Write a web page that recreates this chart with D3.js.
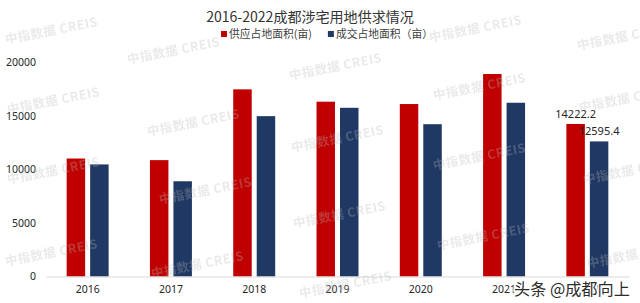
<!DOCTYPE html>
<html>
<head>
<meta charset="utf-8">
<script src="https://cdn.jsdelivr.net/npm/d3@7"></script>
<style>
  body { margin: 0; background: #fff; }
  svg { display: block; font-family: "Noto Sans", "Noto Sans CJK SC", sans-serif; }
</style>
</head>
<body>
<div id="chart"></div>
<script>
// data
const years = ['2016', '2017', '2018', '2019', '2020', '2021', '2022'];
const supply = [11000, 10850, 17450, 16300, 16080, 18880, 14222.2];
const deal = [10450, 8880, 14950, 15730, 14200, 16200, 12595.4];
const seriesNames = ['供应占地面积(亩)', '成交占地面积（亩）'];
const seriesColors = ['#C00000', '#203864'];
const yTicks = [0, 5000, 10000, 15000, 20000];
const labelledYear = '2022';

// watermark anchors (tiled "中指数据 CREIS")
const marks = [
  [6, 44], [128, 64], [290, 80], [430, 42], [578, 50],
  [8, 114], [148, 136], [292, 152], [434, 100], [580, 112],
  [8, 184], [160, 204], [294, 228], [434, 170], [584, 184],
  [6, 266], [152, 278], [300, 298], [438, 250], [588, 268]
];

const width = 640;
const height = 303;
const margin = { top: 62, right: 11, bottom: 26.5, left: 46 };

const svg = d3.select('#chart')
  .append('svg')
  .attr('width', width)
  .attr('height', height);

const rows = years.map((y, i) => ({ year: y, values: [supply[i], deal[i]] }));

const x0 = d3.scaleBand()
  .domain(years)
  .range([margin.left, width - margin.right])
  .paddingInner(0.496)
  .paddingOuter(0.248);

const x1 = d3.scaleBand()
  .domain([0, 1])
  .range([0, x0.bandwidth()])
  .paddingInner(0.2128);

const y = d3.scaleLinear()
  .domain([0, 20000])
  .range([height - margin.bottom, margin.top]);

// scale a text's font so it spans the given width
function fitWidth(sel, target) {
  const fs = +sel.attr('font-size');
  const w = sel.node().getComputedTextLength();
  if (w > 0) sel.attr('font-size', fs * target / w);
}

// title
const title = svg.append('text')
  .attr('x', 310)
  .attr('y', 22)
  .attr('text-anchor', 'middle')
  .attr('font-family', '"Noto Sans CJK SC", sans-serif')
  .attr('font-size', 15.5)
  .attr('fill', '#333')
  .text('2016-2022成都涉宅用地供求情况');
fitWidth(title, 208);

// legend
const legend = svg.append('g').attr('font-family', '"Noto Sans CJK SC", sans-serif');
let lx = 221;
seriesNames.forEach((name, i) => {
  legend.append('rect')
    .attr('x', lx)
    .attr('y', 31)
    .attr('width', 6)
    .attr('height', 6)
    .attr('fill', seriesColors[i]);
  const t = legend.append('text')
    .attr('x', lx + 8)
    .attr('y', 38)
    .attr('font-size', 10.8)
    .attr('fill', '#404040')
    .text(name);
  lx += 8 + t.node().getComputedTextLength() + 16;
});

// y axis (labels only)
const yAxis = svg.append('g')
  .attr('transform', 'translate(' + 36 + ',0)')
  .call(d3.axisLeft(y).tickValues(yTicks).tickSize(0).tickPadding(0).tickFormat(d3.format('d')));
yAxis.select('.domain').remove();
yAxis.selectAll('text')
  .attr('font-size', 10.5)
  .attr('fill', '#262626')
  .attr('font-family', '"Noto Sans", sans-serif');

// bars
const groups = svg.append('g')
  .selectAll('g')
  .data(rows)
  .join('g')
  .attr('transform', (d) => 'translate(' + x0(d.year) + ',0)');

groups.selectAll('rect')
  .data((d) => d.values.map((v, k) => ({ k, v })))
  .join('rect')
  .attr('x', (d) => x1(d.k))
  .attr('y', (d) => y(d.v))
  .attr('width', x1.bandwidth())
  .attr('height', (d) => y(0) - y(d.v))
  .attr('fill', (d) => seriesColors[d.k]);

// x axis
const xAxis = svg.append('g')
  .attr('transform', 'translate(0,' + y(0) + ')')
  .call(d3.axisBottom(x0).tickSize(0).tickPadding(9));
xAxis.select('.domain').attr('stroke', '#d9d9d9').attr('stroke-width', 1);
xAxis.selectAll('text')
  .attr('font-size', 10.5)
  .attr('fill', '#262626')
  .attr('font-family', '"Noto Sans", sans-serif');

// value labels on last year
const last = rows.find((r) => r.year === labelledYear);
last.values.forEach((v, k) => {
  svg.append('text')
    .attr('x', x0(last.year) + x1(k) + x1.bandwidth() / 2)
    .attr('y', y(v) - 6)
    .attr('text-anchor', 'middle')
    .attr('font-size', 11)
    .attr('fill', '#262626')
    .text(d3.format('.1f')(v));
});

// watermarks
const wm = svg.append('g')
  .attr('font-family', '"Noto Sans CJK SC", sans-serif')
  .attr('font-weight', 'bold')
  .attr('font-size', 12.5)
  .attr('fill', '#b8b8b8')
  .attr('opacity', 0.3);
marks.forEach(([mx, my]) => {
  wm.append('text')
    .attr('transform', 'translate(' + mx + ',' + my + ') rotate(-11)')
    .attr('letter-spacing', 0.5)
    .text('中指数据 CREIS');
});

// attribution
const credit = svg.append('text')
  .attr('x', 514)
  .attr('y', 295)
  .attr('font-family', '"Noto Sans CJK SC", sans-serif')
  .attr('font-size', 16.5)
  .attr('fill', '#2b2b2b')
  .attr('stroke', '#fff')
  .attr('stroke-width', 3)
  .attr('paint-order', 'stroke')
  .text('头条 @成都向上');
fitWidth(credit, 116);
</script>
</body>
</html>
